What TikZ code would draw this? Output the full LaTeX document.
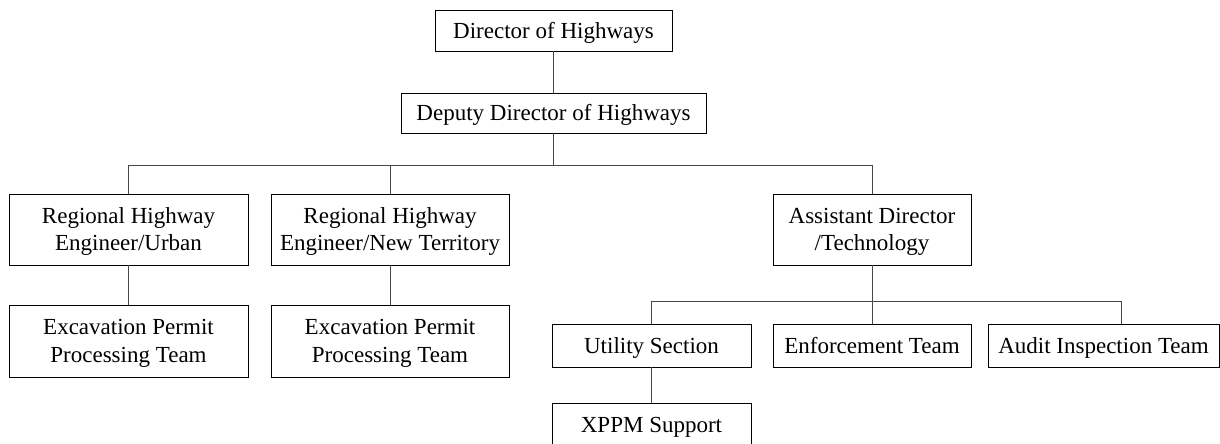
\documentclass[tikz,border=0pt]{standalone}
\usepackage{fontspec}
\setmainfont{Liberation Serif}
\begin{document}
\begin{tikzpicture}[x=1pt,y=-1pt,
  box/.style={draw=black,line width=0.9pt,rectangle,inner sep=0pt,align=center,
    font=\fontsize{23}{27.3}\selectfont,text height=15.2pt,text depth=0pt},
  twoline/.style={text height=42.5pt},
  conn/.style={draw=black!72,line width=0.9pt}]
\useasboundingbox (0,0) rectangle (1220,444);
\clip (0,0) rectangle (1220,444);
% a box given by its left, right, top and bottom edges
\newcommand{\orgbox}[7][]{%
  \node[box,#1,minimum width=#4-#3,minimum height=#6-#5] (#2) at ({(#3+#4)/2},{(#5+#6)/2}) {#7};}
\orgbox{dir}{435}{672}{10}{51}{Director of Highways}
\orgbox{dep}{401}{706}{93}{133}{Deputy Director of Highways}
\orgbox[twoline]{rU}{9}{248}{194}{265}{Regional Highway\\Engineer/Urban}
\orgbox[twoline]{rNT}{271}{509}{194}{265}{Regional Highway\\Engineer/New Territory}
\orgbox[twoline]{asst}{773}{971}{194}{265}{Assistant Director\\/Technology}
\orgbox[twoline]{ex1}{9}{248}{305}{377}{Excavation Permit\\Processing Team}
\orgbox[twoline]{ex2}{271}{509}{305}{377}{Excavation Permit\\Processing Team}
\orgbox{util}{552}{751}{324}{367}{Utility Section}
\orgbox{enf}{773}{971}{324}{367}{Enforcement Team}
\orgbox{audit}{988}{1219}{324}{367}{Audit Inspection Team}
\orgbox{xppm}{552}{751}{403}{447}{XPPM Support}
% bus lines
\coordinate (busA) at (0,165);
\coordinate (busB) at (1121,301);
% connectors
\draw[conn] (dir) -- (dep);
\draw[conn] (dep.south) -- (dep.south |- busA);
\draw[conn] (rU.north) |- (asst.north |- busA) -- (asst.north);
\draw[conn] (rNT.north) -- (rNT.north |- busA);
\draw[conn] (rU) -- (ex1);
\draw[conn] (rNT) -- (ex2);
\draw[conn] (asst) -- (enf);
\draw[conn] (util.north) |- (busB) -- (busB |- audit.north);
\draw[conn] (util) -- (xppm);
\end{tikzpicture}
\end{document}
